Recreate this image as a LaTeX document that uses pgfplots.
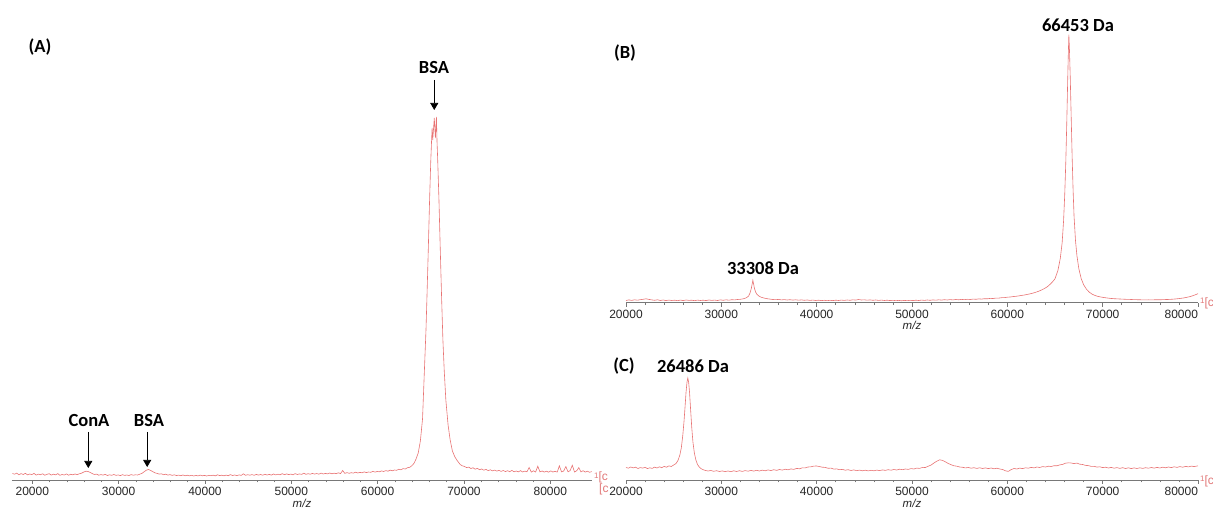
\documentclass[border=0pt]{standalone}
\usepackage{fontspec}
\setmainfont{Liberation Sans}
\newfontfamily\carlito{Carlito}
\usepackage{pgfplots}
\pgfplotsset{compat=1.18}
\usetikzlibrary{arrows.meta}
\definecolor{spec}{RGB}{232,115,115}
\definecolor{axgray}{RGB}{120,120,120}
\definecolor{tickred}{RGB}{225,120,120}
\pgfplotsset{
  specaxis/.style={
    scale only axis,
    anchor=south west,
    axis x line=bottom, axis y line=none,
    axis line style={axgray, line width=0.6pt, -},
    xtick={20000,30000,...,80000},
    minor x tick num=4,
    tick align=outside,
    major tick length=4pt, minor tick length=2.5pt,
    every tick/.style={axgray, line width=0.5pt},
    scaled x ticks=false,
    /pgf/number format/assume math mode=true,
    xticklabel style={/pgf/number format/1000 sep={}, font=\fontsize{12}{12}\selectfont, text=black!85},
    xlabel={m/z},
    xlabel style={font=\fontsize{11.5}{12}\selectfont\itshape, text=black!85, at={(axis description cs:0.5,0)}, anchor=center, yshift=-23pt},
    clip=false,
    ymin=0,
  },
  rightlast/.style={xticklabels={20000,30000,40000,50000,60000,70000,\llap{80000}}},
}
\tikzset{lab/.style={font=\carlito\bfseries\fontsize{18.5}{20}\selectfont},
  crumb/.style={font=\fontsize{12}{12}\selectfont, text=tickred, inner sep=0pt, anchor=west}}
\newcommand{\crumbtext}{\raisebox{2.5pt}{\fontsize{8}{8}\selectfont 1}[c}
\begin{document}
\begin{tikzpicture}
\useasboundingbox (0,0) rectangle (1213pt,511pt);
% ---------------- Panel A ----------------
\begin{axis}[specaxis, at={(12pt,31pt)}, width=580pt, height=365pt,
  xmin=17650, xmax=84830, ymax=365]
\addplot[spec, line width=0.6pt, mark=none] coordinates {
(17700,6.5) (17950,5.8) (18200,6.9) (18450,5.2) (18700,6.4) (18950,5.5) (19200,6.7) (19450,5.1) (19700,6.0) (19950,5.4)
(20200,6.6) (20450,4.9) (20700,5.9) (20950,5.3) (21200,6.2) (21450,4.8) (21700,5.6) (21950,6.3) (22200,4.9) (22450,5.8)
(22700,5.1) (22950,6.4) (23200,4.7) (23450,5.5) (23700,5.0) (23950,6.1) (24200,4.8) (24450,5.7) (24700,5.2) (24950,6.0)
(25200,5.4) (25450,6.2) (25700,6.8) (25950,7.9) (26200,8.8) (26450,8.5) (26700,7.6) (26950,6.4) (27200,5.5) (27450,5.9)
(27700,4.8) (27950,5.4) (28200,4.9) (28450,5.6) (28700,4.5) (28950,5.2) (29200,4.7) (29450,5.5) (29700,4.6) (29950,5.1)
(30200,4.4) (30450,5.3) (30700,4.6) (30950,5.0) (31200,4.5) (31450,5.4) (31700,4.8) (31950,5.2) (32200,5.0) (32450,5.8)
(32700,6.6) (32950,8.2) (33200,9.8) (33450,10.5) (33700,9.6) (33950,8.4) (34200,7.2) (34450,6.6) (34700,5.9) (34950,6.2)
(35200,5.3) (35450,5.8) (35700,4.9) (35950,5.4) (36200,4.6) (36450,5.2) (36700,4.4) (36950,4.9) (37200,4.3) (37450,5.0)
(37700,4.2) (37950,4.8) (38200,4.1) (38450,4.7) (38700,4.0) (38950,4.6) (39200,4.1) (39450,4.9) (39700,4.2) (39950,4.6)
(40200,4.0) (40450,4.7) (40700,4.3) (40950,4.8) (41200,4.1) (41450,5.2) (41700,4.4) (41950,4.8) (42200,4.2) (42450,4.9)
(42700,4.3) (42950,5.4) (43200,4.5) (43450,5.0) (43700,4.4) (43950,5.1) (44200,4.6) (44450,6.2) (44700,4.7) (44950,5.3)
(45200,4.8) (45450,5.4) (45700,4.7) (45950,5.6) (46200,4.9) (46450,5.5) (46700,4.8) (46950,5.7) (47200,5.0) (47450,5.6)
(47700,4.9) (47950,6.0) (48200,5.1) (48450,5.8) (48700,5.2) (48950,6.3) (49200,5.3) (49450,6.1) (49700,5.4) (49950,5.9)
(50200,5.2) (50450,6.4) (50700,5.5) (50950,6.1) (51200,5.6) (51450,6.8) (51700,5.7) (51950,6.3) (52200,5.8) (52450,6.6)
(52700,5.9) (52950,6.5) (53200,5.8) (53450,6.9) (53700,6.0) (53950,6.6) (54200,6.1) (54450,7.0) (54700,6.2) (54950,6.8)
(55200,6.3) (55450,7.2) (55700,6.4) (55950,9.5) (56200,6.6) (56450,7.4) (56700,6.7) (56950,7.3) (57200,6.9) (57450,7.8)
(57700,7.0) (57950,7.6) (58200,7.2) (58450,8.1) (58700,7.4) (58950,8.0) (59200,7.7) (59450,8.6) (59700,7.9) (59950,8.5)
(60200,8.2) (60450,9.1) (60700,8.5) (60950,9.4) (61200,8.8) (61450,9.9) (61700,9.2) (61950,10.0) (62200,9.7) (62450,10.8)
(62700,10.2) (62950,11.4) (63200,11.0) (63450,12.3) (63700,12.6) (63950,14.2) (64200,16.5) (64450,21) (64700,27) (64950,39)
(65200,61) (65410,108) (65600,150) (65710,182) (65850,225) (66020,281) (66150,318) (66250,340) (66310,352) (66380,340)
(66450,348) (66560,362) (66690,342) (66760,355) (66810,363) (66880,338) (66950,322) (67100,281) (67250,232) (67410,182)
(67560,140) (67710,110) (67900,80) (68160,55) (68400,40) (68660,29) (68950,23) (69250,19) (69560,15.5) (69800,14.2)
(70050,13.6) (70300,12.4) (70550,12.9) (70800,11.5) (71050,12.2) (71300,10.8) (71550,11.6) (71800,10.3) (72050,11.0) (72300,9.8)
(72550,10.6) (72800,9.4) (73050,10.2) (73300,9.1) (73550,9.9) (73800,8.9) (74050,9.6) (74300,8.6) (74550,9.5) (74800,8.4)
(75050,9.3) (75300,8.3) (75550,9.6) (75800,8.2) (76050,9.0) (76300,8.1) (76550,9.4) (76800,8.0) (77050,8.9) (77300,8.2)
(77550,12.5) (77800,7.9) (78050,9.2) (78300,8.0) (78550,13.8) (78800,8.1) (79050,9.0) (79300,7.9) (79550,8.8) (79800,7.8)
(80050,9.1) (80300,8.0) (80550,8.7) (80800,7.9) (81050,14.2) (81300,8.1) (81550,9.0) (81800,13.5) (82050,8.2) (82300,9.4)
(82550,14.8) (82800,8.0) (83050,9.2) (83300,12.3) (83550,8.1) (83800,9.3) (84050,7.9) (84300,8.8) (84550,7.7) (84800,8.4)
};
\draw[-{Triangle[width=8pt,length=7pt]}, line width=0.6pt] (axis cs:26486,48) -- (axis cs:26486,12);
\draw[-{Triangle[width=8pt,length=7pt]}, line width=0.6pt] (axis cs:33308,48) -- (axis cs:33308,13);
\draw[-{Triangle[width=8pt,length=7pt]}, line width=0.6pt] (axis cs:66560,400) -- (axis cs:66560,370);
\end{axis}
% ---------------- Panel B ----------------
\begin{axis}[specaxis, rightlast, at={(626pt,208.3pt)}, width=572pt, height=268pt,
  xmin=20000, xmax=80000, ymax=268]
\addplot[spec, line width=0.6pt, mark=none] coordinates {
(20000,2.2) (20300,2.8) (20600,2.3) (20900,2.9) (21200,2.5) (21500,3.0) (21800,3.4) (22100,3.9) (22400,3.3) (22700,2.8)
(23000,2.4) (23300,2.9) (23600,2.2) (23900,2.7) (24200,2.1) (24500,2.6) (24800,2.2) (25100,2.5) (25400,2.0) (25700,2.6)
(26000,2.1) (26300,2.7) (26600,2.3) (26900,2.5) (27200,2.0) (27500,2.6) (27800,2.2) (28100,2.5) (28400,2.1) (28700,2.7)
(29000,2.3) (29300,2.6) (29600,2.2) (29900,2.8) (30200,2.4) (30500,2.9) (30800,2.5) (31100,3.0) (31400,2.8) (31700,3.2)
(32000,3.4) (32300,3.9) (32600,4.8) (32850,6.5) (33000,9.5) (33150,14.5) (33250,19.5) (33308,22.5) (33380,19) (33480,14)
(33600,10.5) (33750,8.2) (33950,6.6) (34200,5.4) (34500,4.6) (34800,4.0) (35100,3.6) (35400,3.2) (35700,3.0) (36000,3.3)
(36300,2.8) (36600,3.1) (36900,2.7) (37200,3.0) (37500,2.6) (37800,2.9) (38100,2.5) (38400,2.8) (38700,2.4) (39000,2.7)
(39300,2.3) (39600,2.6) (39900,2.2) (40200,2.5) (40500,2.1) (40800,2.4) (41100,2.0) (41400,2.4) (41700,2.1) (42000,2.5)
(42300,2.2) (42600,2.6) (42900,2.3) (43200,2.7) (43500,2.4) (43800,2.9) (44100,2.6) (44400,3.2) (44700,2.7) (45000,2.9)
(45300,2.5) (45600,2.8) (45900,2.4) (46200,2.7) (46500,2.3) (46800,2.6) (47100,2.2) (47400,2.5) (47700,2.1) (48000,2.4)
(48300,2.0) (48600,2.3) (48900,1.9) (49200,2.3) (49500,2.0) (49800,2.4) (50100,2.1) (50400,2.5) (50700,2.2) (51000,2.6)
(51300,2.3) (51600,2.7) (51900,2.4) (52200,2.8) (52500,2.5) (52800,2.9) (53100,2.6) (53400,3.0) (53700,2.7) (54000,3.1)
(54300,2.8) (54600,3.2) (54900,2.9) (55200,3.3) (55500,3.0) (55800,3.4) (56100,3.2) (56400,3.6) (56700,3.4) (57000,3.8)
(57300,3.6) (57600,4.0) (57900,3.9) (58200,4.3) (58500,4.2) (58800,4.6) (59100,4.6) (59400,5.0) (59700,5.1) (60000,5.5)
(60300,5.7) (60600,6.1) (60900,6.4) (61200,6.8) (61500,7.3) (61800,7.7) (62100,8.3) (62400,8.9) (62700,9.6) (63000,10.5)
(63300,11.5) (63600,12.8) (63900,14.2) (64200,16) (64500,18.5) (64800,21.5) (65000,24) (65300,32) (65550,44) (65750,60)
(65900,82) (66020,108) (66130,140) (66230,178) (66330,222) (66400,250) (66453,268) (66510,255) (66600,225) (66700,185)
(66800,145) (66900,112) (67000,86) (67150,62) (67300,47) (67500,34) (67750,24) (68000,18) (68300,13.5) (68600,10.5)
(68900,8.5) (69200,7.2) (69500,6.3) (69800,5.7) (70100,5.2) (70400,4.8) (70800,4.3) (71200,4.0) (71600,3.8) (72000,3.6)
(72400,3.4) (72800,3.3) (73200,3.1) (73600,3.0) (74000,2.9) (74400,2.8) (74800,2.9) (75200,2.8) (75600,3.0) (76000,2.9)
(76400,3.1) (76800,3.2) (77200,3.4) (77600,3.7) (78000,4.1) (78400,4.6) (78800,5.3) (79200,6.2) (79600,7.5) (80000,9.0)
};
\end{axis}
% ---------------- Panel C ----------------
\begin{axis}[specaxis, rightlast, at={(626pt,31pt)}, width=572pt, height=102pt,
  xmin=20000, xmax=80000, ymax=102]
\addplot[spec, line width=0.6pt, mark=none] coordinates {
(20000,12.5) (20250,11.8) (20500,13.0) (20750,12.1) (21000,12.8) (21250,11.5) (21500,12.4) (21750,11.9) (22000,12.7) (22250,11.4)
(22500,12.2) (22750,11.6) (23000,12.9) (23250,12.0) (23500,13.2) (23750,12.3) (24000,13.6) (24250,12.8) (24500,14.1) (24750,13.5)
(25000,15.0) (25250,16.5) (25450,19.5) (25650,25) (25800,32) (25950,44) (26080,58) (26200,74) (26300,88) (26400,98)
(26486,102) (26570,98) (26670,87) (26780,70) (26900,52) (27020,38) (27170,27) (27330,20) (27500,15.5) (27700,12.8)
(27900,11.2) (28100,10.3) (28300,9.6) (28600,9.0) (28900,9.5) (29200,8.7) (29500,9.3) (29800,8.5) (30100,9.1) (30400,8.4)
(30700,9.0) (31000,8.3) (31300,9.2) (31600,8.5) (31900,9.3) (32200,8.6) (32500,9.4) (32800,8.8) (33100,9.6) (33400,8.9)
(33700,9.7) (34000,9.0) (34300,9.9) (34600,9.2) (34900,10.1) (35200,9.4) (35500,10.3) (35800,9.6) (36100,10.5) (36400,9.9)
(36700,10.8) (37000,10.2) (37300,11.1) (37600,10.6) (37900,11.6) (38200,11.2) (38500,12.2) (38800,12.1) (39100,13.0) (39400,13.2)
(39700,13.9) (40000,14.0) (40300,13.4) (40600,12.8) (40900,12.6) (41200,11.7) (41500,11.9) (41800,10.9) (42100,11.1) (42400,10.3)
(42700,10.6) (43000,9.8) (43300,10.3) (43600,9.5) (43900,10.1) (44200,9.3) (44500,9.9) (44800,9.2) (45100,9.8) (45400,9.1)
(45700,9.7) (46000,9.2) (46300,9.9) (46600,9.4) (46900,10.1) (47200,9.6) (47500,10.3) (47800,9.8) (48100,10.5) (48400,10.0)
(48700,10.8) (49000,10.3) (49300,11.0) (49600,10.6) (49900,11.4) (50200,11.0) (50500,11.9) (50800,11.6) (51100,12.6) (51400,12.5)
(51700,13.8) (52000,14.9) (52300,17.0) (52600,18.8) (52900,20.2) (53200,19.6) (53500,18.2) (53800,16.5) (54100,15.3) (54400,14.2)
(54700,13.8) (55000,13.0) (55300,12.7) (55600,12.1) (55900,12.5) (56200,11.8) (56500,12.3) (56800,11.6) (57100,12.2) (57400,11.5)
(57700,12.1) (58000,11.4) (58300,12.0) (58600,11.2) (58900,11.8) (59200,11.0) (59500,10.5) (59800,9.2) (60100,8.6) (60400,10.4)
(60700,11.5) (61000,11.0) (61300,11.9) (61600,11.4) (61900,12.2) (62200,11.8) (62500,12.6) (62800,12.1) (63100,13.0) (63400,12.5)
(63700,13.4) (64000,13.0) (64300,13.8) (64600,13.5) (64900,14.3) (65200,14.2) (65500,15.1) (65800,15.6) (66100,16.8) (66400,17.2)
(66700,17.0) (67000,16.4) (67300,16.9) (67600,15.8) (67900,15.5) (68200,14.6) (68500,14.4) (68800,13.6) (69100,13.7) (69400,12.9)
(69700,13.2) (70000,12.4) (70300,12.8) (70600,12.0) (70900,12.6) (71200,11.8) (71500,12.4) (71800,11.6) (72100,12.3) (72400,11.5)
(72700,12.2) (73000,11.4) (73300,12.1) (73600,11.5) (73900,12.2) (74200,11.6) (74500,12.3) (74800,11.8) (75100,12.5) (75400,11.9)
(75700,12.6) (76000,12.0) (76300,12.8) (76600,12.2) (76900,13.0) (77200,12.4) (77500,13.2) (77800,12.6) (78100,13.4) (78400,12.8)
(78700,13.6) (79000,13.1) (79300,13.9) (79600,13.4) (80000,14.2)
};
\end{axis}
% ---------------- Annotations ----------------
\node[lab] at (40pt,464pt) {(A)};
\node[lab] at (89pt,90pt) {ConA};
\node[lab] at (149pt,90pt) {BSA};
\node[lab] at (434pt,443pt) {BSA};
\node[lab] at (625pt,458pt) {(B)};
\node[lab] at (763pt,243pt) {33308 Da};
\node[lab] at (1078pt,486pt) {66453 Da};
\node[lab] at (624pt,145pt) {(C)};
\node[lab] at (693pt,145pt) {26486 Da};
\node[crumb] at (594pt,33.5pt) {\crumbtext};
\node[crumb] at (1200pt,208pt) {\crumbtext};
\node[crumb] at (1200pt,30pt) {\crumbtext};
\node[crumb] at (599pt,22pt) {[c};
\end{tikzpicture}
\end{document}
